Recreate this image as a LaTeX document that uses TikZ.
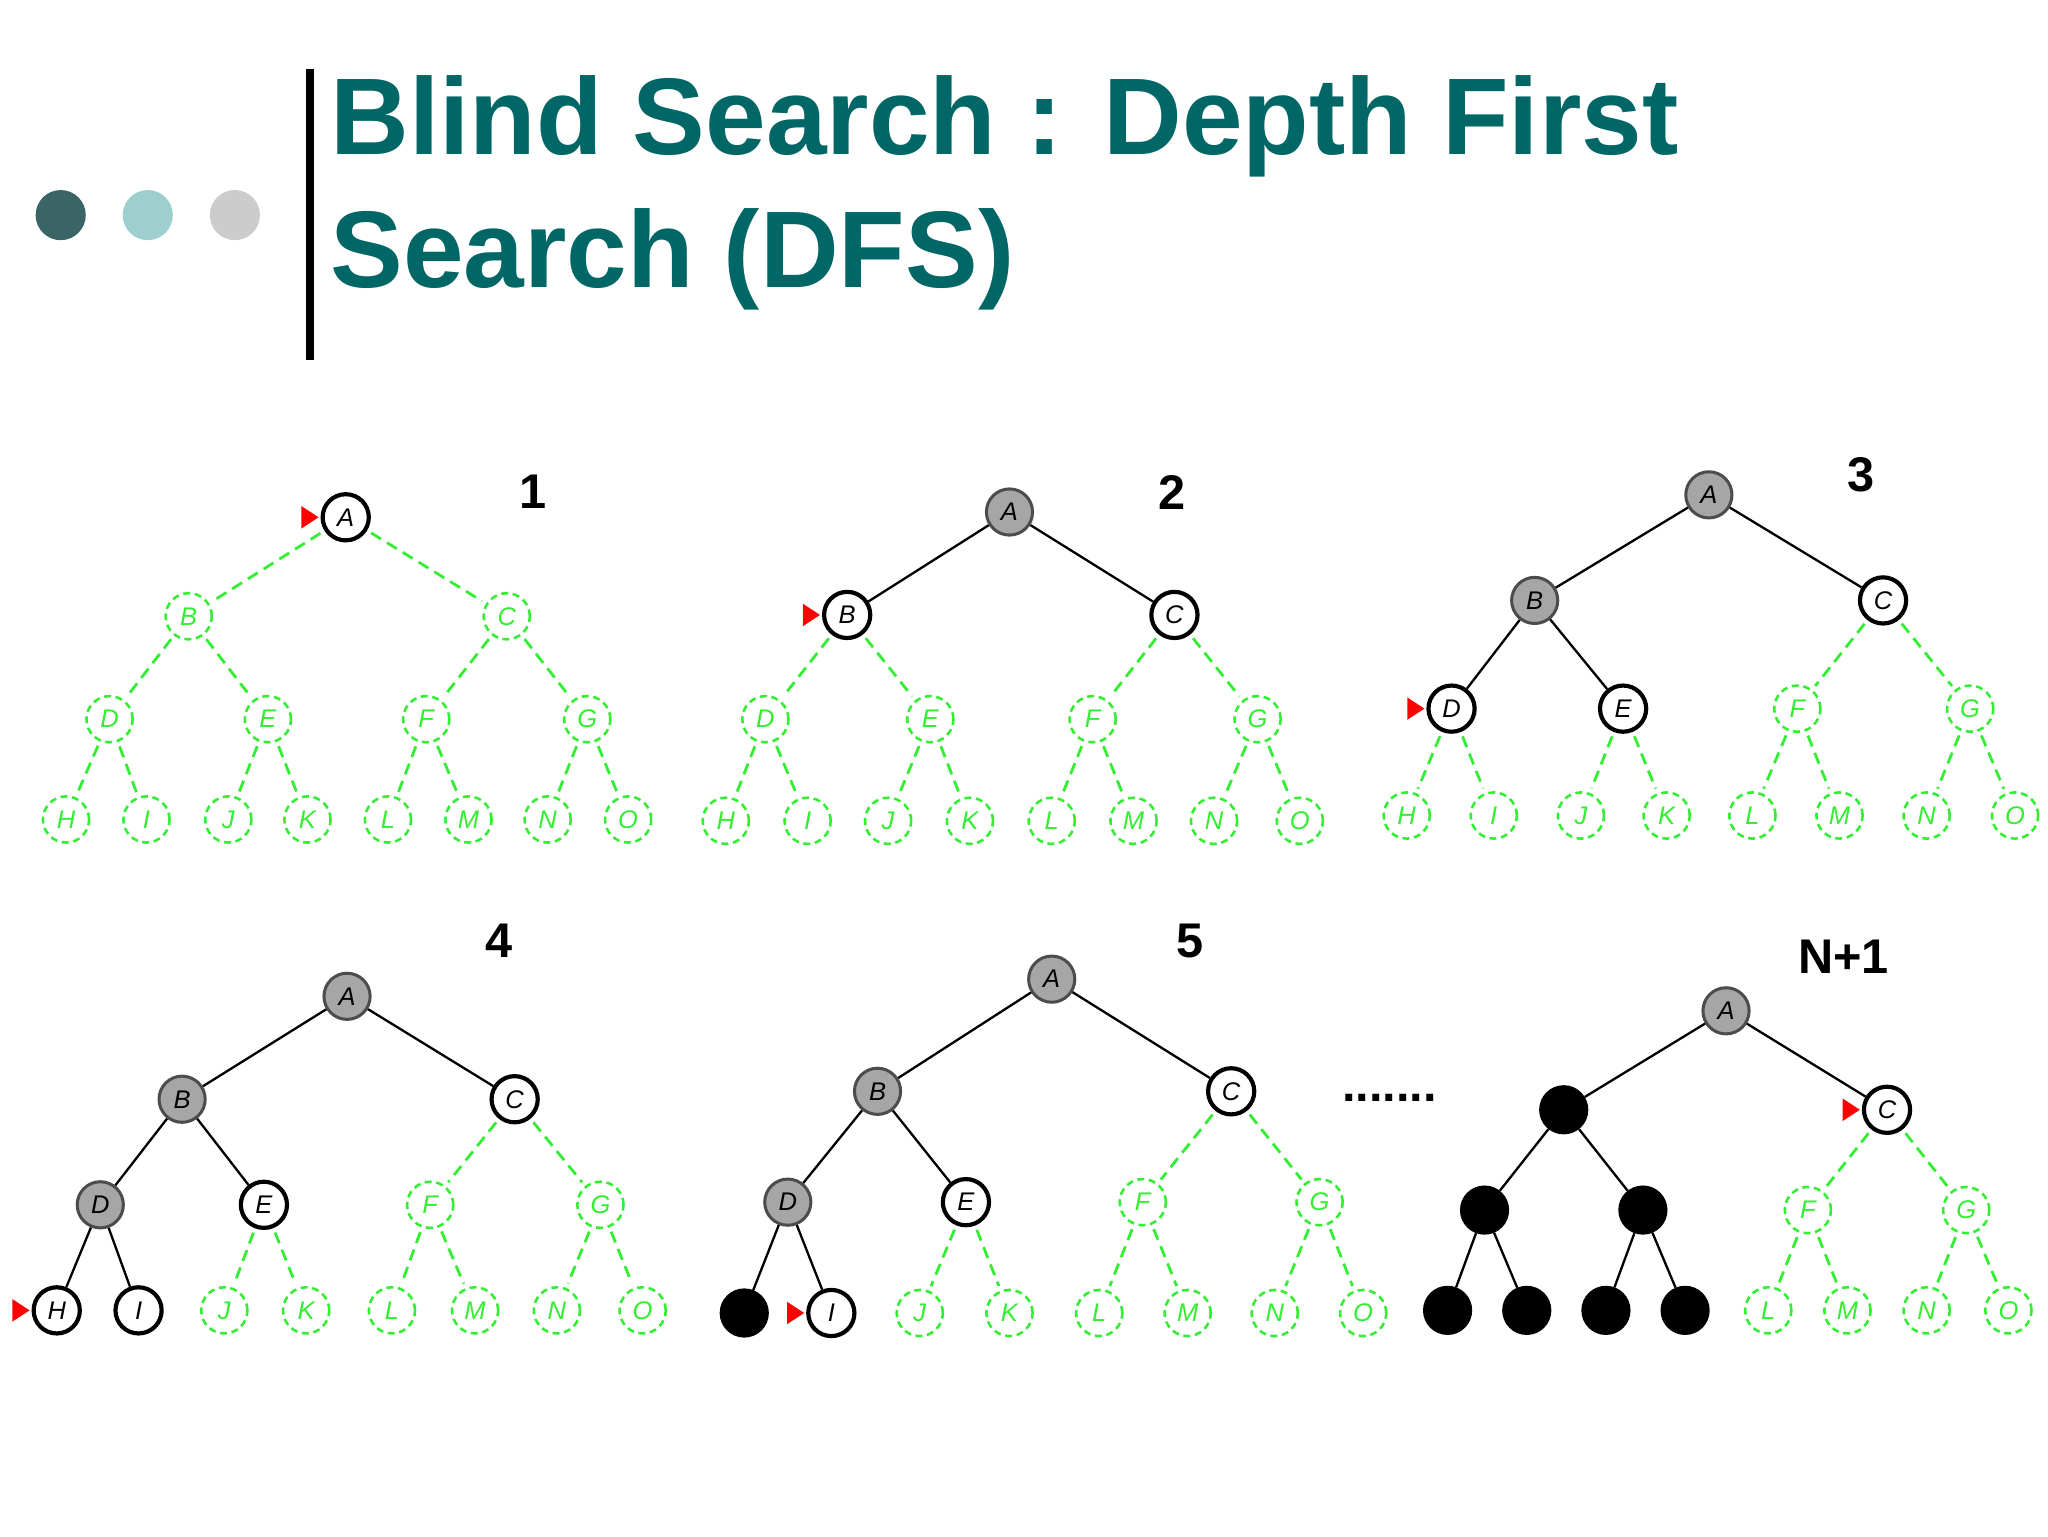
\documentclass[tikz,border=0pt]{standalone}
\usepackage{fontspec}
\setmainfont{Liberation Sans}
\setsansfont{Liberation Sans}
\definecolor{teal1}{HTML}{006666}
\definecolor{dgreen}{HTML}{33EE33}
\definecolor{dot1}{HTML}{3A6466}
\definecolor{dot2}{HTML}{9ECFCF}
\definecolor{dot3}{HTML}{CCCCCC}
\tikzset{
 base/.style={circle,minimum size=0.7cm,inner sep=0pt,font=\itshape\fontsize{11}{11}\selectfont},
 st-g/.style={base,draw=dgreen,dashed,dash pattern=on 3pt off 2pt,line width=1.1pt,text=dgreen},
 st-f/.style={base,draw=black,line width=1.8pt,fill=white},
 st-c/.style={st-f},
 st-x/.style={base,draw=black!70,line width=1.3pt,fill=gray!70},
 st-k/.style={base,draw=black,fill=black,line width=1.3pt},
 egreen/.style={draw=dgreen,line width=1.2pt,dash pattern=on 5pt off 3pt,shorten <=2pt,shorten >=2pt},
 eblack/.style={draw=black,line width=1pt},
 num/.style={font=\bfseries\fontsize{21}{21}\selectfont}
}
\def\cc{c}
\def\greenst{g}
\newcommand\letterof[1]{\ifcase#1\or A\or B\or C\or D\or E\or F\or G\or H\or I\or J\or K\or L\or M\or N\or O\fi}
\newcommand\mktree[6]{%
 \foreach \x/\s [count=\i] in {#6}{%
   \ifnum\i=1 \def\yy{#2}\else\ifnum\i<4 \def\yy{#3}\else\ifnum\i<8 \def\yy{#4}\else\def\yy{#5}\fi\fi\fi
   \node[st-\s] (#1\i) at (\x,\yy) {\letterof{\i}};
   \expandafter\xdef\csname st#1\i\endcsname{\s}%
   \ifx\s\cc \fill[red] ([xshift=-0.03cm]#1\i.west) -- ++(-0.26cm,0.17cm) -- ++(0,-0.34cm) -- cycle; \fi
 }
 \foreach \i in {2,...,15}{%
   \pgfmathtruncatemacro\p{\i/2}%
   \edef\cs{\csname st#1\i\endcsname}%
   \ifx\cs\greenst \draw[egreen] (#1\p) -- (#1\i); \else \draw[eblack] (#1\p) -- (#1\i); \fi
 }
}
\begin{document}
\begin{tikzpicture}[x=0.02cm,y=-0.02cm]
\useasboundingbox (0,0) rectangle (1552,1164);
\fill[white] (0,0) rectangle (1552,1164);
% header
\fill[dot1] (46,163) circle (19);
\fill[dot2] (112,163) circle (19);
\fill[dot3] (178,163) circle (19);
\draw[line width=0.12cm] (235,52) -- (235,273);
\node[anchor=base west,inner sep=0,text=teal1,font=\bfseries\fontsize{47}{47}\selectfont] (t1) at (250,117) {Blind Search : Depth First};
\node[anchor=base west,inner sep=0,text=teal1,font=\bfseries\fontsize{47}{47}\selectfont] (t2) at (250,218) {Search (DFS)};
% tree 1
\mktree{a}{392}{467}{545}{621}{262/c,143/g,384/g,83/g,203/g,323/g,445/g,50/g,111/g,173/g,233/g,294/g,355/g,415/g,476/g}
\node[num] (n1) at (404,373) {1};
% tree 2
\mktree{b}{388}{466}{545}{622}{765/x,642/c,890/f,580/g,705/g,828/g,953/g,550/g,612/g,673/g,735/g,797/g,859/g,920/g,985/g}
\node[num] (n2) at (888,373) {2};
% tree 3
\mktree{c}{375}{455}{537}{618}{1295/x,1163/x,1427/f,1100/c,1230/f,1362/g,1493/g,1066/g,1132/g,1198/g,1263/g,1328/g,1394/g,1460/g,1527/g}
\node[num] (n3) at (1410,360) {3};
% tree 4
\mktree{d}{755}{833}{913}{993}{263/x,138/x,390/f,76/x,200/f,326/g,455/g,43/c,105/f,170/g,232/g,297/g,360/g,422/g,487/g}
\node[num] (n4) at (378,713) {4};
% tree 5
\mktree{e}{742}{827}{911}{995}{797/x,665/x,933/f,597/x,732/f,866/g,1000/g,564/k,630/c,697/g,765/g,833/g,900/g,966/g,1033/g}
\node[num] (n5) at (902,713) {5};
% tree 6
\mktree{f}{766}{841}{917}{993}{1308/x,1185/k,1430/c,1125/k,1245/k,1370/g,1490/g,1097/k,1157/k,1217/k,1277/k,1340/g,1400/g,1460/g,1522/g}
\node[num] (n6) at (1397,725) {N+1};
\node[font=\bfseries\fontsize{21}{21}\selectfont] (dots) at (1053,832) {.......};
\end{tikzpicture}
\end{document}
